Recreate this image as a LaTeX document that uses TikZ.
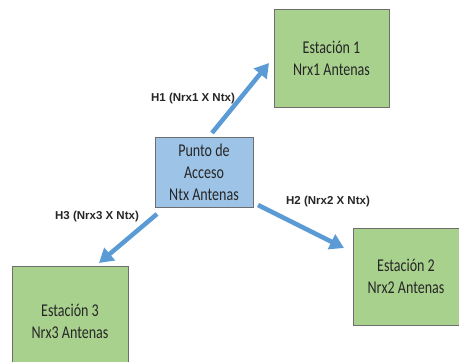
\documentclass[tikz,border=0pt]{standalone}
\usepackage{fontspec}
\setmainfont{Carlito}
\setsansfont{Liberation Sans}
\newfontfamily\boxfont[FakeStretch=0.78]{Carlito}
\usetikzlibrary{arrows.meta}
\definecolor{stagreen}{RGB}{169,209,142}
\definecolor{apblue}{RGB}{157,195,230}
\definecolor{boxedge}{RGB}{110,110,110}
\definecolor{linkblue}{RGB}{91,155,213}
\tikzset{
  box/.style={draw=boxedge, line width=0.9pt, align=center, inner sep=0pt,
    font=\boxfont\fontsize{18}{22}\selectfont, text=black!85},
  station/.style={box, fill=stagreen},
  access/.style={box, fill=apblue},
  link/.style={draw=linkblue, line width=4.5pt,
    -{Triangle[length=14pt,width=16pt]}},
  chan/.style={font=\sffamily\bfseries\fontsize{11.5}{13}\selectfont, text=black!85}
}
\begin{document}
\begin{tikzpicture}[x=1pt,y=-1pt]
  \useasboundingbox (0,0) rectangle (459,362);
  % stations and access point
  \node[station, minimum width=115pt, minimum height=98pt] (s1) at (331.5,58) {Estación 1\\Nrx1 Antenas};
  \node[access, minimum width=98pt, minimum height=70pt] (ap) at (204,172) {Punto de\\Acceso\\Ntx Antenas};
  \node[station, minimum width=106pt, minimum height=97pt] (s2) at (406,276.5) {Estación 2\\Nrx2 Antenas};
  \node[station, minimum width=116pt, minimum height=110pt] (s3) at (70,321) {Estación 3\\Nrx3 Antenas};
  % end points of the channel arrows
  \coordinate (t1) at (212,133);
  \coordinate (h1) at (269,63);
  \coordinate (t2) at (258,205);
  \coordinate (h2) at (344,248);
  \coordinate (t3) at (157,214);
  \coordinate (h3) at (99,263);
  \draw[link] (t1) -- (h1);
  \draw[link] (t2) -- (h2);
  \draw[link] (t3) -- (h3);
  % channel labels
  \node[chan] (l1) at (193,99) {H1 (Nrx1 X Ntx)};
  \node[chan] (l2) at (328,202) {H2 (Nrx2 X Ntx)};
  \node[chan] (l3) at (97,217) {H3 (Nrx3 X Ntx)};
\end{tikzpicture}
\end{document}
